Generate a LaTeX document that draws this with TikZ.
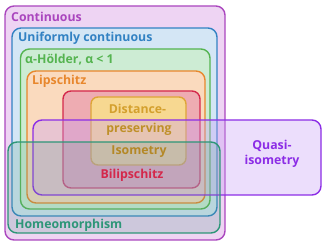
\documentclass[tikz,border=0pt]{standalone}
\usepackage{fontspec}
\setmainfont{Open Sans}
\begin{document}
\begin{tikzpicture}[x=1pt,y=-1pt,
  set/.style={draw, line width=1.4pt, rounded corners=9pt, inner sep=0pt},
  lbl/.style={font=\bfseries\fontsize{12.3}{14}\selectfont, inner sep=0pt}]
\definecolor{cC}{RGB}{170,70,190}\definecolor{fC}{RGB}{238,212,243}
\definecolor{cU}{RGB}{50,130,195}\definecolor{fU}{RGB}{212,230,245}
\definecolor{cH}{RGB}{85,180,80}\definecolor{fH}{RGB}{205,236,212}
\definecolor{cL}{RGB}{232,135,45}\definecolor{fL}{RGB}{250,218,190}
\definecolor{cB}{RGB}{212,40,75}\definecolor{fB}{RGB}{238,172,178}
\definecolor{cD}{RGB}{222,165,55}\definecolor{fD}{RGB}{247,216,145}
\definecolor{tD}{RGB}{212,160,45}
\definecolor{cQ}{RGB}{140,45,230}\definecolor{fQ}{RGB}{200,160,245}
\definecolor{cM}{RGB}{45,150,120}\definecolor{fM}{RGB}{90,160,140}
\useasboundingbox (0,0) rectangle (330,248);
\node[set, draw=cC, fill=fC, minimum width=220pt, minimum height=234pt] (cont) at (115,123) {};
\node[set, draw=cU, fill=fU, minimum width=205pt, minimum height=188pt] (unif) at (114.5,122) {};
\node[set, draw=cH, fill=fH, minimum width=189.5pt, minimum height=160pt] (hold) at (115.25,129) {};
\node[set, draw=cL, fill=fL, minimum width=178pt, minimum height=132pt] (lip) at (116,137) {};
\node[set, draw=cB, fill=fB, minimum width=137pt, minimum height=97pt, rounded corners=8pt] (bili) at (131.5,139.5) {};
\node[set, draw=cD, fill=fD, minimum width=95pt, minimum height=68pt, rounded corners=7pt] (dist) at (138.5,131) {};
\node[set, draw=cQ, fill=fQ, fill opacity=0.35, minimum width=288pt, minimum height=75pt] (quasi) at (177,157.5) {};
\node[set, draw=cM, fill=fM, fill opacity=0.22, minimum width=212pt, minimum height=91pt] (homeo) at (114,187.5) {};
\node[lbl, text=cC, anchor=west] (tC) at (11,17) {Continuous};
\node[lbl, text=cU, anchor=west] (tU) at (18,38) {Uniformly continuous};
\node[lbl, text=cH, anchor=west] (tH) at (25,60) {α-Hölder, α < 1};
\node[lbl, text=cL, anchor=west] (tL) at (32,81) {Lipschitz};
\node[lbl, text=tD] (tD1) at (137.5,109) {Distance-};
\node[lbl, text=tD!90!black] (tD2) at (139,129) {preserving};
\node[lbl, text=tD!85!black] (tI) at (139,152) {Isometry};
\node[lbl, text=cB] (tB) at (132,175) {Bilipschitz};
\node[lbl, text=cQ] (tQ1) at (272,146) {Quasi-};
\node[lbl, text=cQ] (tQ2) at (272,161) {isometry};
\node[lbl, text=cM, anchor=west] (tM) at (15,225) {Homeomorphism};
\end{tikzpicture}
\end{document}
